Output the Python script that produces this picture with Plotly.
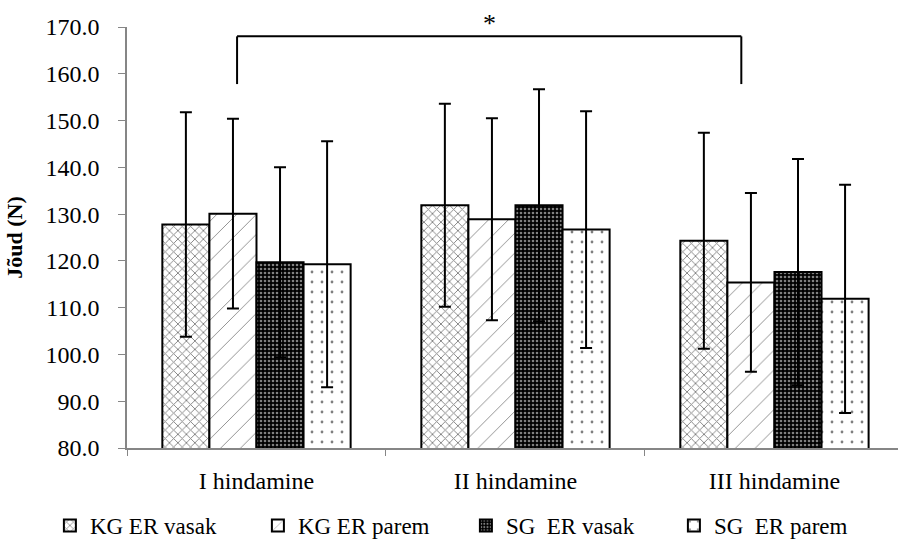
import plotly.graph_objects as go

categories = ["I hindamine", "II hindamine", "III hindamine"]
series_names = ["KG ER vasak", "KG ER parem", "SG  ER vasak", "SG  ER parem"]
means = [
    [127.8, 131.9, 124.3],
    [130.1, 128.9, 115.4],
    [119.7, 131.9, 117.6],
    [119.3, 126.7, 111.9],
]
sds = [
    [24.0, 21.7, 23.1],
    [20.3, 21.6, 19.1],
    [20.3, 24.8, 24.2],
    [26.3, 25.3, 24.4],
]
y_ticks = [80, 90, 100, 110, 120, 130, 140, 150, 160, 170]

patterns = [
    dict(shape="x", size=6, solidity=0.28, fgcolor="black", bgcolor="white"),
    dict(shape="/", size=14, solidity=0.06, fgcolor="black", bgcolor="white"),
    dict(shape=".", size=4, solidity=0.35, fgcolor="white", bgcolor="black"),
    dict(shape=".", size=10, solidity=0.06, fgcolor="black", bgcolor="white"),
]

FONT = "Liberation Serif"

fig = go.Figure()
for name, m, s, p in zip(series_names, means, sds, patterns):
    fig.add_trace(go.Bar(
        name=name, x=categories, y=m,
        marker=dict(color="white", line=dict(color="black", width=2), pattern=p),
        error_y=dict(type="data", array=s, visible=True, color="black", thickness=2, width=6),
    ))

# significance bracket
fig.add_shape(type="line", xref="x", yref="y", x0=-0.075, x1=-0.075, y0=157.8, y1=168.0,
              line=dict(color="black", width=2))
fig.add_shape(type="line", xref="x", yref="y", x0=-0.075, x1=1.872, y0=168.0, y1=168.0,
              line=dict(color="black", width=2))
fig.add_shape(type="line", xref="x", yref="y", x0=1.872, x1=1.872, y0=157.8, y1=168.0,
              line=dict(color="black", width=2))
fig.add_annotation(x=0.90, y=1.008, xref="x", yref="paper", text="*", showarrow=False,
                   yanchor="middle", font=dict(family=FONT, size=26, color="black"))

fig.update_layout(
    width=898, height=547,
    margin=dict(l=127, r=0, t=27, b=98),
    paper_bgcolor="white", plot_bgcolor="white",
    barmode="group", bargap=0.273, bargroupgap=0,
    font=dict(family=FONT, size=24, color="black"),
    showlegend=True,
    legend=dict(orientation="h", x=-0.1, xanchor="left", y=-0.185, yanchor="middle",
                font=dict(family=FONT, size=23, color="black"),
                entrywidth=163, entrywidthmode="pixels", itemwidth=30,
                traceorder="normal"),
    xaxis=dict(range=[-0.5, 2.477], showline=True, linecolor="#868686", linewidth=1.5,
               ticks="outside", tickson="boundaries", ticklen=6, tickcolor="#868686",
               ticklabelstandoff=10,
               showgrid=False, tickfont=dict(family=FONT, size=24, color="black")),
    yaxis=dict(range=[80, 170], tickvals=y_ticks, tickformat=".1f", showline=True,
               linecolor="#868686", linewidth=1.5, ticks="outside", ticklen=7,
               tickcolor="#868686", showgrid=False, zeroline=False,
               ticklabelstandoff=14,
               tickfont=dict(family=FONT, size=24, color="black"),
               title=dict(text="<b>Jõud (N)</b>", standoff=17,
                          font=dict(family=FONT, size=22, color="black"))),
)

fig.write_html("out.html")
